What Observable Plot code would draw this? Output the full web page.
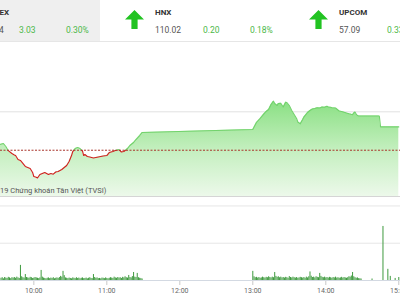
<!DOCTYPE html>
<html><head><meta charset="utf-8">
<script src="https://cdn.jsdelivr.net/npm/d3@7"></script>
<script src="https://cdn.jsdelivr.net/npm/@observablehq/plot@0.6"></script>
<style>
html,body{margin:0;padding:0;background:#fff;overflow:hidden;width:400px;height:300px;font-family:Roboto,"Noto Sans",sans-serif;}
#wrap{position:relative;width:400px;height:300px;overflow:hidden;}
#header{position:absolute;left:0;top:0;width:400px;height:42px;border-bottom:1px solid #e6e6e6;box-sizing:border-box;}
.tab{position:absolute;left:0;top:0;width:100px;height:41px;background:#efefef;}
.t{position:absolute;white-space:nowrap;line-height:1;}
.lbl{font-weight:bold;font-size:8px;color:#333;top:8.5px;}
.val{font-size:8.5px;color:#555;top:26px;}
.chg{font-size:8.5px;color:#4cb848;top:26px;}
.arrow{position:absolute;top:10px;}
#price{position:absolute;left:0;top:42px;}
#vol{position:absolute;left:0;top:198px;}
#vol text{fill:#666;}
#credit{position:absolute;left:0;top:186.5px;font-size:7.5px;color:#555;line-height:1;white-space:nowrap;}
</style>
</head><body>
<div id="wrap">
  <div id="header"><div class="tab"></div></div>
  <div id="price"></div>
  <div id="vol"></div>
  <div id="credit">19 Chứng khoán Tân Việt (TVSI)</div>
</div>
<script>
// ---- header data ----
const indexNames = ["VNINDEX", "HNX", "UPCOM"];
const indexValues = ["1013.04", "110.02", "57.09"];
const indexChanges = ["3.03", "0.20", "0.33"];
const indexPercents = ["0.30%", "0.18%", "0.58%"];

// ---- price data ----
const REF = 1010.01;
const priceTimes = ["09:32","09:35","09:37","09:39","09:42","09:44","09:45","09:47","09:49","09:51","09:53","09:55","09:57","09:59","10:00","10:02","10:03","10:05","10:07","10:09","10:12","10:14","10:16","10:18","10:20","10:23","10:25","10:27","10:29","10:31","10:32","10:34","10:36","10:38","10:40","10:41","10:42","10:44","10:46","10:49","10:51","10:55","10:57","11:00","11:02","11:05","11:07","11:10","11:12","11:14","11:17","11:19","11:22","11:24","11:27","11:29",
"13:00","13:03","13:06","13:09","13:11","13:13","13:15","13:17","13:18","13:20","13:21","13:23","13:25","13:27","13:28","13:30","13:32","13:34","13:36","13:37","13:39","13:41","13:42","13:45","13:47","13:49","13:51","13:53","13:55","13:57","13:59","14:01","14:02","14:04","14:05","14:08","14:10","14:11","14:13","14:15","14:17","14:19","14:20","14:22","14:23","14:24","14:25","14:26","14:27","14:44","14:45","15:00"];
const priceValues = [1010.75,1010.88,1010.49,1009.95,1009.58,1009.40,1009.32,1008.81,1008.68,1008.29,1007.90,1007.77,1007.64,1007.12,1006.60,1006.50,1006.40,1006.86,1006.99,1007.12,1006.86,1006.99,1006.90,1007.18,1007.25,1007.51,1007.77,1008.03,1008.55,1009.32,1009.84,1010.23,1010.36,1010.23,1009.91,1009.32,1009.45,1009.19,1009.13,1009.00,1009.06,1009.19,1009.26,1009.32,1009.71,1009.84,1009.97,1010.10,1009.78,1009.84,1010.23,1010.62,1011.01,1011.40,1011.92,1012.31,
1012.70,1013.61,1014.13,1014.71,1015.04,1015.30,1015.95,1016.38,1016.08,1015.82,1016.08,1016.12,1015.62,1016.25,1016.21,1015.82,1015.17,1014.65,1014.13,1013.68,1013.44,1014.00,1014.32,1014.91,1015.17,1015.36,1015.43,1015.52,1015.49,1015.62,1015.60,1015.71,1015.62,1015.60,1015.53,1015.49,1015.23,1015.10,1015.04,1014.95,1014.84,1014.74,1014.71,1014.61,1014.84,1014.97,1014.71,1014.52,1014.45,1014.45,1013.04,1013.04];
const priceGrid = [1015];

// ---- volume data (per minute) ----
const morningStart = "09:33";
const morningVolume = [120,150,90,160,130,110,170,140,100,150,
130,160,120,180,140,110,810,200,150,130,
320,160,140,120,170,150,110,130,160,140,
120,100,140,540,180,130,110,90,120,140,
100,130,110,150,90,120,140,110,160,220,
180,490,260,140,120,100,130,110,90,140,
120,100,150,110,130,90,120,140,100,110,
130,90,120,150,110,100,320,160,120,140,
100,110,90,130,120,100,140,110,90,120,
150,130,110,180,140,120,160,130,150,110,
170,140,200,150,130,270,160,140,210,430,
180,160,380,150,120,100,80];
const afternoonStart = "13:00";
const afternoonVolume = [490,200,150,170,130,160,120,140,180,150,
130,170,150,200,160,140,180,150,430,220,
170,200,150,180,140,160,130,170,150,120,
210,160,140,180,150,130,160,120,140,170,
150,130,160,120,180,140,200,460,230,160,
180,140,200,170,150,380,220,170,150,180,
140,160,130,170,150,120,160,140,180,130,
150,120,140,170,130,160,140,120,150,200,
180,240,430,200,150,120,140,100,90,80];
const lateTimes = ["14:38","14:47","14:51","14:53","14:57","15:00"];
const lateVolume = [80,2900,600,220,110,160];
const volumeGrid = [2000, 4000];
const tickTimes = ["10:00","11:00","12:00","13:00","14:00","15:00"];

// ---- helpers ----
const toDate = s => { const [h,m,sec] = s.split(":").map(Number); return new Date(Date.UTC(2019,0,2,h,m,sec||0)); };
const addMin = (s, k) => { const d = toDate(s); return new Date(d.getTime() + k*60000); };
const X_DOMAIN = [toDate("09:32:36"), toDate("15:01:24")];
const Y_MIN = 1004, Y_MAX = 1024;

// ---- header ----
const header = document.getElementById("header");
const panelX = [-29, 155, 339];
indexNames.forEach((name, i) => {
  const x = panelX[i];
  const mk = (cls, txt, dx, rightEdge) => {
    const d = document.createElement("div"); d.className = "t " + cls; d.textContent = txt;
    if (rightEdge !== undefined) d.style.right = (400 - rightEdge) + "px"; else d.style.left = (x + dx) + "px";
    header.appendChild(d);
  };
  if (i === 0) { mk("lbl", name, 0, 9); mk("val", indexValues[i], 0, 3.8); }
  else { mk("lbl", name, 0); mk("val", indexValues[i], 0); }
  mk("chg", indexChanges[i], 48);
  mk("chg", indexPercents[i], 95);
  if (i > 0) {
    const a = document.createElementNS("http://www.w3.org/2000/svg", "svg");
    a.setAttribute("class", "arrow"); a.setAttribute("width", 19); a.setAttribute("height", 19);
    a.setAttribute("viewBox", "0 0 19 19"); a.style.left = (x - 30) + "px";
    a.innerHTML = '<path d="M9.5 0 L19 9.5 L12.6 9.5 L12.6 19 L6.4 19 L6.4 9.5 L0 9.5 Z" fill="#22c322"/>';
    header.appendChild(a);
  }
});

// ---- price chart ----
const priceData = priceTimes.map((t, i) => ({t: toDate(t), v: priceValues[i]}));
const PH = 156;
const price = Plot.plot({
  width: 400, height: PH, margin: 0, marginBottom: 2,
  x: {type: "utc", domain: X_DOMAIN, axis: null},
  y: {domain: [Y_MIN, Y_MAX], axis: null},
  style: {background: "transparent"},
  marks: [
    Plot.ruleY(priceGrid, {stroke: "#e2e2e2"}),
    Plot.areaY(priceData, {x: "t", y1: Y_MIN, y2: "v", fill: "url(#areaGrad)"}),
    Plot.line(priceData, {x: "t", y: "v", stroke: "url(#lineGrad)", strokeWidth: 1.1}),
    Plot.ruleY([REF], {stroke: "#a8322a", strokeDasharray: "2,1.5"}),
    Plot.ruleY([Y_MIN], {stroke: "#d5d5d5"})
  ]
});
const refY = price.scale("y").apply(REF);
const defs = d3.select(price).insert("defs", ":first-child");
const lg = defs.append("linearGradient").attr("id", "lineGrad").attr("gradientUnits", "userSpaceOnUse")
  .attr("x1", 0).attr("x2", 0).attr("y1", 0).attr("y2", PH);
lg.append("stop").attr("offset", refY / PH).attr("stop-color", "#72d26c");
lg.append("stop").attr("offset", refY / PH).attr("stop-color", "#d21f1f");
const ag = defs.append("linearGradient").attr("id", "areaGrad").attr("gradientUnits", "userSpaceOnUse")
  .attr("x1", 0).attr("x2", 0).attr("y1", 0).attr("y2", PH);
ag.append("stop").attr("offset", 55 / PH).attr("stop-color", "#86df7f");
ag.append("stop").attr("offset", 108 / PH).attr("stop-color", "#c4efbf");
ag.append("stop").attr("offset", 1).attr("stop-color", "#eef9ec");
document.getElementById("price").appendChild(price);

// ---- volume chart ----
const volData = [
  ...morningVolume.map((v, i) => ({t: addMin(morningStart, i), v})),
  ...afternoonVolume.map((v, i) => ({t: addMin(afternoonStart, i), v})),
  ...lateVolume.map((v, i) => ({t: toDate(lateTimes[i]), v}))
];
const vol = Plot.plot({
  width: 400, height: 102, marginLeft: 0, marginRight: 0, marginTop: 0, marginBottom: 20,
  x: {type: "utc", domain: X_DOMAIN, ticks: tickTimes.map(toDate), tickFormat: d3.utcFormat("%H:%M"), tickSize: 5, tickPadding: 3, label: null},
  y: {domain: [0, 4400], axis: null},
  style: {fontSize: "7px", fontFamily: "Roboto", color: "#c8c8c8", background: "transparent"},
  marks: [
    Plot.ruleY(volumeGrid, {stroke: "#e6e6e6"}),
    Plot.ruleY([0], {stroke: "#d3d9e2"}),
    Plot.ruleX(volData, {x: "t", y1: 0, y2: "v", stroke: "#3e9a3e", strokeWidth: 1})
  ]
});
document.getElementById("vol").appendChild(vol);
</script>
</body></html>
